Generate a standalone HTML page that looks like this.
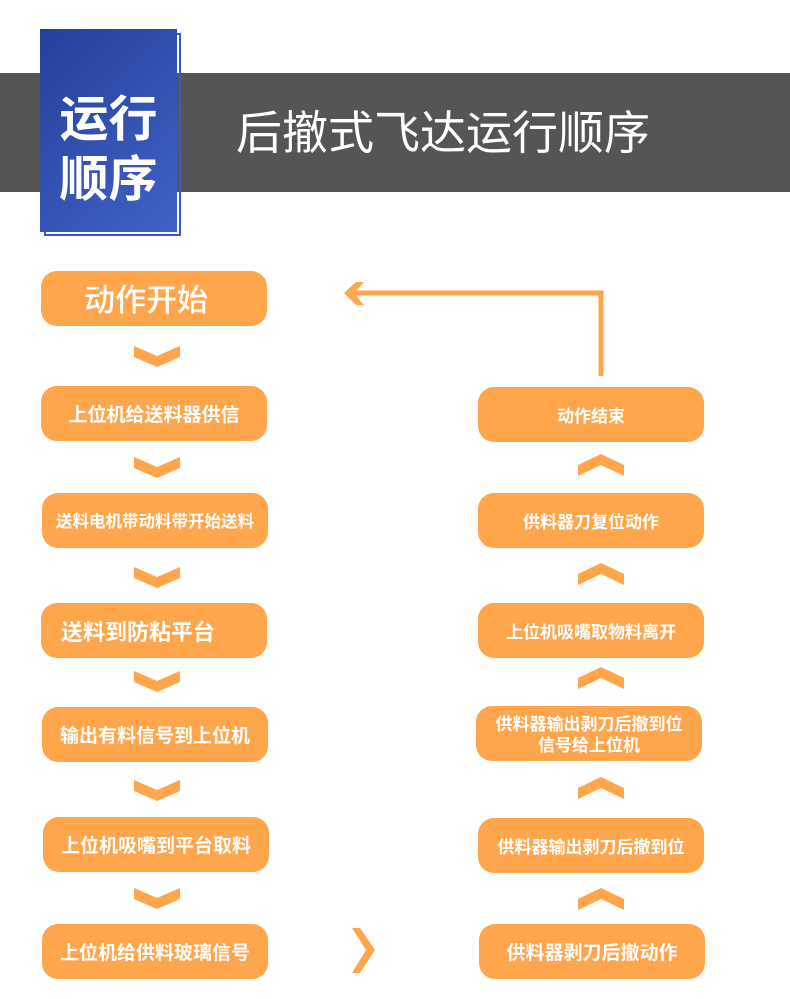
<!DOCTYPE html>
<html><head><meta charset="utf-8"><style>
*{margin:0;padding:0;box-sizing:border-box}
body{width:790px;height:999px;background:#fff;position:relative;overflow:hidden;font-family:"Liberation Sans","Noto Sans CJK SC",sans-serif}
.band{position:absolute;left:0;top:73px;width:790px;height:119px;background:#555}
.frame{position:absolute;left:44px;top:33px;width:137px;height:203px;border:2px solid #3a5ac0}
.blue{position:absolute;left:40px;top:29px;width:137px;height:203px;background:linear-gradient(135deg,#26409a,#3f62c8)}
.bt{position:absolute;left:40px;top:90px;width:137px;text-align:center;color:#fff;font-size:49px;font-weight:bold;line-height:60px;letter-spacing:0px}
.title{position:absolute;left:236px;top:103px;color:#fff;font-size:46px;line-height:60px;white-space:nowrap}
.b{position:absolute;width:226px;height:55px;background:#ffa64d;border-radius:16px;color:#fff;font-weight:bold;font-size:19px;display:flex;align-items:center;justify-content:center;text-align:center;line-height:21px;white-space:nowrap;padding-top:3px}
svg{position:absolute}
</style></head><body>
<div class="band"></div>
<div class="frame"></div>
<div class="blue"></div>
<div class="bt">运行<br>顺序</div>
<div class="title">后撤式飞达运行顺序</div>

<div class="b" style="left:41px;top:271px;font-size:31px;font-weight:500;justify-content:flex-start;padding-left:43px">动作开始</div>
<div class="b" style="left:41px;top:386px">上位机给送料器供信</div>
<div class="b" style="left:42px;top:493px;font-size:16.5px">送料电机带动料带开始送料</div>
<div class="b" style="left:41px;top:603px;font-size:22px;justify-content:flex-start;padding-left:20px">送料到防粘平台</div>
<div class="b" style="left:42px;top:707px">输出有料信号到上位机</div>
<div class="b" style="left:43px;top:817px">上位机吸嘴到平台取料</div>
<div class="b" style="left:42px;top:924px">上位机给供料玻璃信号</div>

<div class="b" style="left:478px;top:387px;font-size:17px">动作结束</div>
<div class="b" style="left:478px;top:493px;font-size:17px">供料器刀复位动作</div>
<div class="b" style="left:478px;top:603px;font-size:17px">上位机吸嘴取物料离开</div>
<div class="b" style="left:476px;top:706px;font-size:17px">供料器输出剥刀后撤到位<br>信号给上位机</div>
<div class="b" style="left:478px;top:818px;font-size:17px">供料器输出剥刀后撤到位</div>
<div class="b" style="left:479px;top:924px">供料器剥刀后撤动作</div>

<svg width="790" height="999" style="left:0;top:0">
<g fill="#ffa64d">
<polygon points="134,346 157,356 180,346 180,357 157,367 134,357"/>
<polygon points="134,457 157,467 180,457 180,468 157,478 134,468"/>
<polygon points="134,567 157,577 180,567 180,578 157,588 134,578"/>
<polygon points="134,671 157,681 180,671 180,682 157,692 134,682"/>
<polygon points="134,780 157,790 180,780 180,791 157,801 134,791"/>
<polygon points="134,888 157,898 180,888 180,899 157,909 134,899"/>
<polygon points="578,476 601,465 624,476 624,465 601,454 578,465"/>
<polygon points="578,585 601,574 624,585 624,574 601,563 578,574"/>
<polygon points="578,689 601,678 624,689 624,678 601,667 578,678"/>
<polygon points="578,799 601,788 624,799 624,788 601,777 578,788"/>
<polygon points="578,910 601,899 624,910 624,899 601,888 578,899"/>
<polygon points="352,928 360,928 375,950 360,973 352,973 366,950"/>
<polygon points="344,293 356,282 364,282 354,293 364,305 356,305"/>
</g>
<path d="M601,376 V293 H352" stroke="#ffa64d" stroke-width="5" fill="none"/>
</svg>
</body></html>
